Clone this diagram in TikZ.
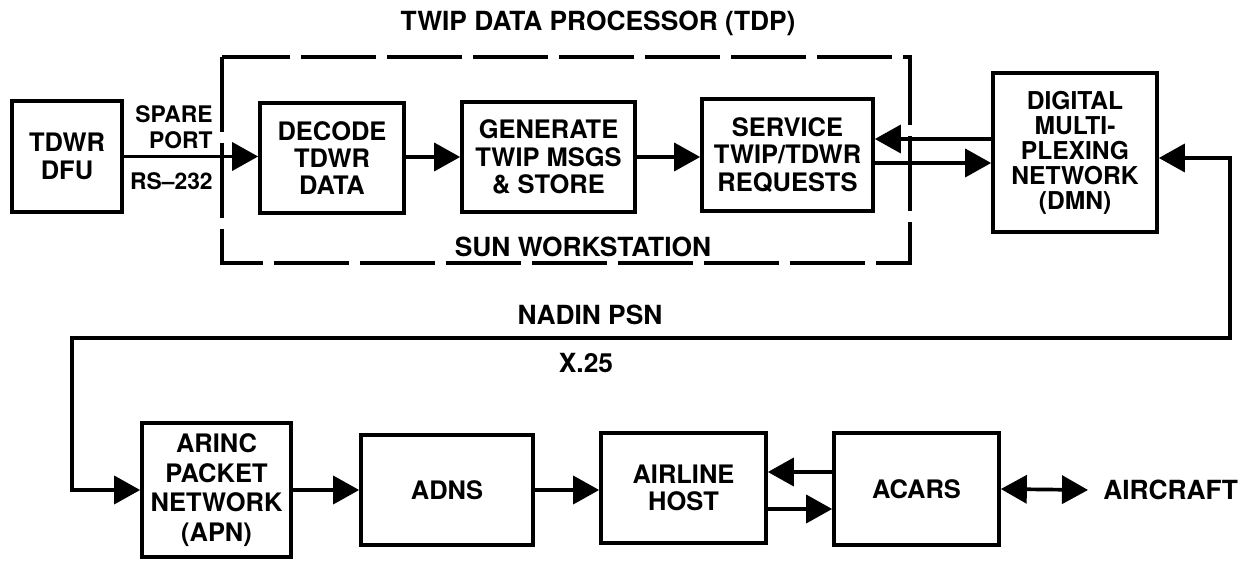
\documentclass[tikz,border=0pt]{standalone}
\usepackage{fontspec}
\setmainfont{TeX Gyre Heros}
\usepackage{tikz}
\usetikzlibrary{arrows.meta, positioning}
\tikzset{
	blk/.style 2 args={draw=black, line width=2.1pt, inner sep=0pt, align=center,
		minimum width=#1*0.02cm, minimum height=#2*0.02cm,
		font=\fontsize{14.5}{15.6}\selectfont\bfseries},
	lbl/.style={inner sep=0pt, align=center, font=\fontsize{15}{15.6}\selectfont\bfseries},
	smalllbl/.style={inner sep=0pt, align=right, font=\fontsize{13}{14.6}\selectfont\bfseries},
	link/.style={line width=2.1pt, -{Triangle[length=0.52cm,width=0.56cm]}},
	linkBoth/.style={line width=2.1pt, {Triangle[length=0.52cm,width=0.56cm]}-{Triangle[length=0.52cm,width=0.56cm]}},
	tdpFrame/.style={line width=1.9pt, dash pattern=on 1.5cm off 0.22cm}
}

\begin{document}
\begin{tikzpicture}[x=0.02cm,y=-0.02cm]
\useasboundingbox (0,0) rectangle (1244,563);
% upper row
\node [blk={110}{111}] (dfu) at (67,156.5) {TDWR\\DFU};
\node [blk={144}{110}] (decode) at (332,158) {DECODE\\TDWR\\DATA};
\node [blk={173}{110}] (generate) at (548.5,157) {GENERATE\\TWIP MSGS\\\& STORE};
\node [blk={171}{112}] (service) at (787.5,155) {SERVICE\\TWIP/TDWR\\REQUESTS};
\node [blk={164}{159}, font=\fontsize{14}{14.2}\selectfont\bfseries] (dmn) at (1075,152.5) {DIGITAL\\MULTI-\\PLEXING\\NETWORK\\(DMN)};
% processor frame
\draw [tdpFrame] (222,57) rectangle (910,263);
\node [lbl] (tdp) at (598,23) {TWIP DATA PROCESSOR (TDP)};
\node [lbl] (sun) at (583,247) {SUN WORKSTATION};
\node [smalllbl, anchor=east] (spare) at (213,127) {SPARE\\PORT};
\node [smalllbl, anchor=east] (rs) at (213,181) {RS--232};
% lower row
\node [blk={149}{134}, font=\fontsize{14.5}{16.8}\selectfont\bfseries] (arinc) at (216.5,490) {ARINC\\PACKET\\NETWORK\\(APN)};
\node [blk={172}{110}] (adns) at (447,490) {ADNS};
\node [blk={165}{110}] (airline) at (683.5,488) {AIRLINE\\HOST};
\node [blk={165}{112}] (acars) at (916.5,489) {ACARS};
\node [lbl, anchor=west, inner xsep=0.3cm] (aircraft) at (1088,490) {AIRCRAFT};
% nadin
\coordinate (rt) at (1230,338);
\coordinate (lt) at (72,338);
\node [lbl] (nadin) at (590,315) {NADIN PSN};
\node [lbl] (x25) at (586,363) {X.25};
% connectors
\draw [link] (dfu.east) -- (dfu.east -| decode.west);
\draw [link] (generate.west -| decode.east) -- (generate.west);
\draw [link] (generate.east) -- (generate.east -| service.west);
\coordinate (sv1) at ([yshift=0.32cm]service.east);
\coordinate (sv2) at ([yshift=-0.16cm]service.east);
\draw [link] (sv1 -| dmn.west) -- (sv1);
\draw [link] (sv2) -- (sv2 -| dmn.west);
\draw [linkBoth] ([yshift=-0.11cm]dmn.east) -| (rt) -- (lt) |- (arinc.west);
\draw [link] (arinc.east) -- (adns.west);
\draw [link] (adns.east) -- (adns.east -| airline.west);
\coordinate (ac1) at ([yshift=0.34cm]acars.west);
\coordinate (ac2) at ([yshift=-0.40cm]acars.west);
\draw [link] (ac1) -- (ac1 -| airline.east);
\draw [link] (ac2 -| airline.east) -- (ac2);
\draw [linkBoth] (acars.east) -- (aircraft.west);
\end{tikzpicture}
\end{document}
